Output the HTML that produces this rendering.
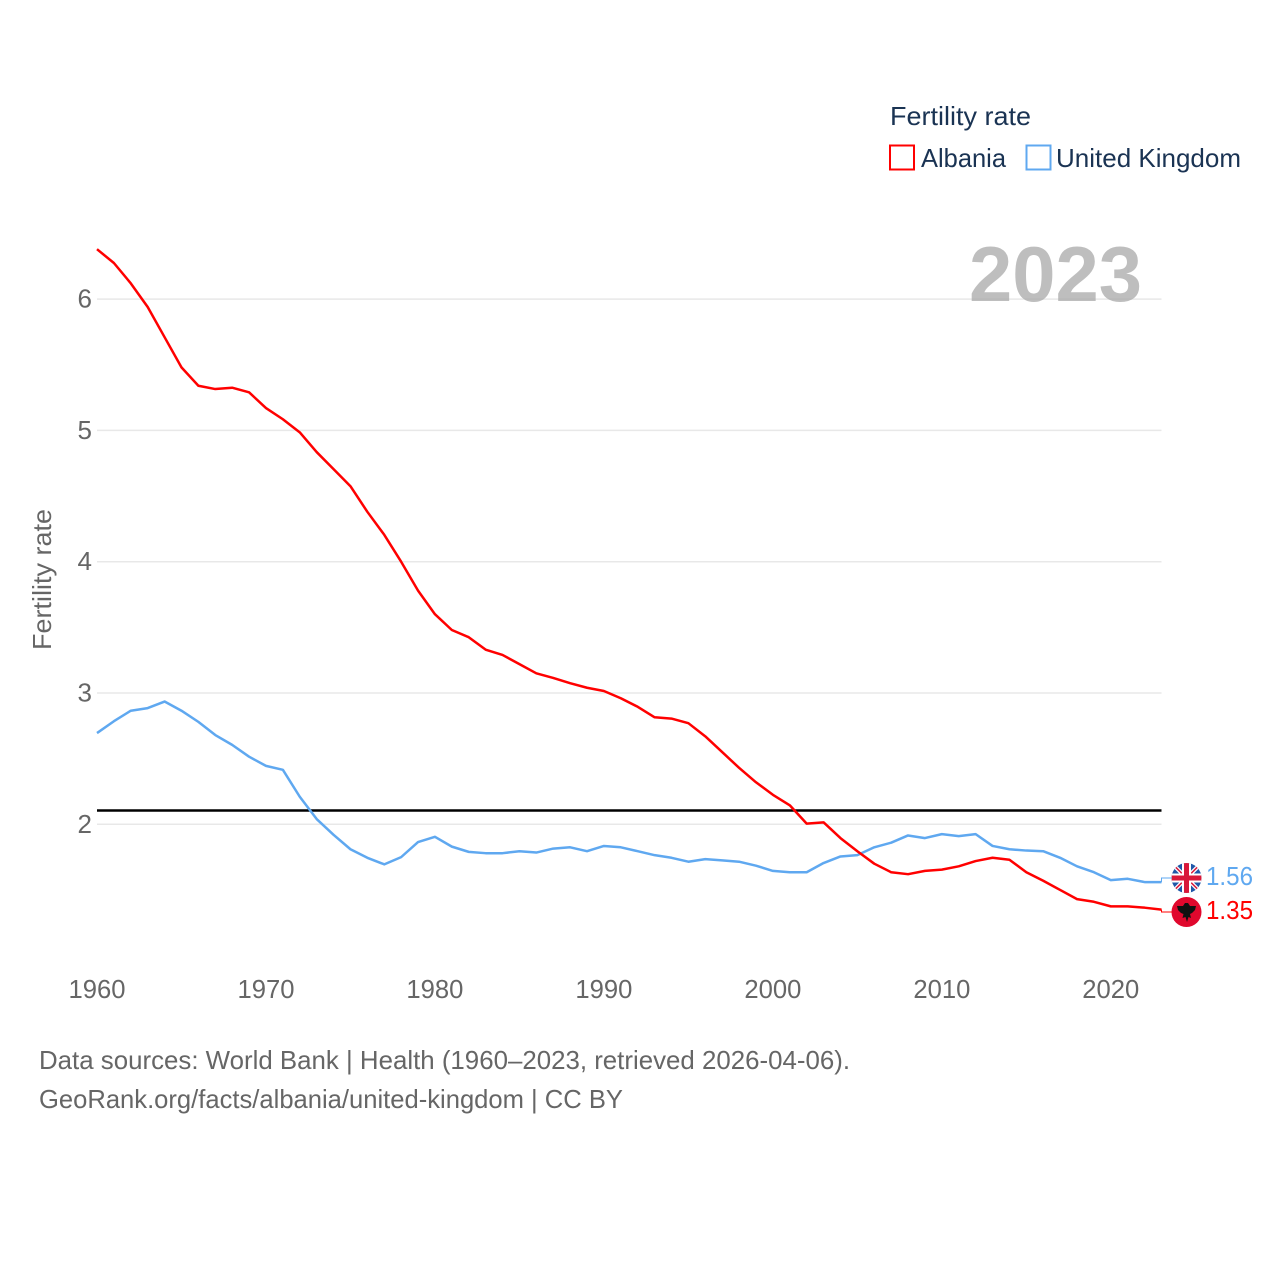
<!DOCTYPE html>
<html lang="en">
<head>
<meta charset="utf-8">
<title>Fertility rate: Albania and United Kingdom</title>
<style>
html,body{margin:0;padding:0;background:#fff;width:1280px;height:1280px;overflow:hidden}
svg{display:block}
text{font-family:"Liberation Sans",sans-serif}
</style>
</head>
<body>
<svg id="chart" xmlns="http://www.w3.org/2000/svg" width="1280" height="1280" viewBox="0 0 1280 1280">
  <defs>
    <clipPath id="uk-clip"><circle cx="1186.5" cy="878" r="15"/></clipPath>
  </defs>
  <rect x="0" y="0" width="1280" height="1280" fill="#fff"/>
  <g id="grid"></g>
  <text x="1142" y="301" text-anchor="end" font-size="78" font-weight="700" fill="#a8a8a8" fill-opacity="0.75" textLength="173" lengthAdjust="spacingAndGlyphs">2023</text>
  <g id="y-ticks"></g>
  <g id="x-ticks"></g>
  <text transform="translate(51,579.5) rotate(-90)" text-anchor="middle" font-size="26" fill="#666" textLength="141" lengthAdjust="spacingAndGlyphs">Fertility rate</text>
  <g id="series"></g>

  <g>
    <text x="890" y="125" font-size="26" fill="#1a3353" textLength="141" lengthAdjust="spacingAndGlyphs">Fertility rate</text>
    <g>
      <rect x="890" y="145.5" width="24" height="24" fill="#fff" stroke="#ff0000" stroke-width="2"/>
      <text x="921" y="167" font-size="26" fill="#1a3353" textLength="85" lengthAdjust="spacingAndGlyphs">Albania</text>
    </g>
    <g>
      <rect x="1026.5" y="145.5" width="24" height="24" fill="#fff" stroke="#5fa8f0" stroke-width="2"/>
      <text x="1056" y="167" font-size="26" fill="#1a3353" textLength="185" lengthAdjust="spacingAndGlyphs">United Kingdom</text>
    </g>
  </g>

  <g clip-path="url(#uk-clip)">
    <rect x="1171" y="862" width="31" height="32" fill="#1f57a8"/>
    <path d="M1172.5 864 L1200.5 892 M1200.5 864 L1172.5 892" stroke="#fff" stroke-width="4"/>
    <path d="M1172.5 864 L1200.5 892 M1200.5 864 L1172.5 892" stroke="#d8183a" stroke-width="1.5"/>
    <rect x="1171" y="873.5" width="31" height="9" fill="#fff"/>
    <rect x="1182" y="862" width="9" height="32" fill="#fff"/>
    <rect x="1171" y="875.5" width="31" height="5" fill="#d8183a"/>
    <rect x="1184" y="862" width="5" height="32" fill="#d8183a"/>
  </g>
  <g>
    <circle cx="1186.5" cy="912" r="15" fill="#e0082d"/>
    <path d="M1177 906 L1183 906 L1185 903 L1188 903 L1190 906 L1196 906 L1195 910 L1192 913 L1190 914 L1191 918 L1188.5 917 L1187 922 L1185.5 917 L1182.5 918 L1183.5 914 L1181 913 L1178 910 Z" fill="#111"/>
  </g>
  <g id="end-labels"></g>

  <g>
    <text x="39" y="1069" font-size="26" fill="#666" textLength="811" lengthAdjust="spacingAndGlyphs">Data sources: World Bank | Health (1960–2023, retrieved 2026-04-06).</text>
    <text x="39" y="1108" font-size="26" fill="#666" textLength="584" lengthAdjust="spacingAndGlyphs">GeoRank.org/facts/albania/united-kingdom | CC BY</text>
  </g>
</svg>
<script>
const years = [1960,1961,1962,1963,1964,1965,1966,1967,1968,1969,1970,1971,1972,1973,1974,1975,1976,1977,1978,1979,1980,1981,1982,1983,1984,1985,1986,1987,1988,1989,1990,1991,1992,1993,1994,1995,1996,1997,1998,1999,2000,2001,2002,2003,2004,2005,2006,2007,2008,2009,2010,2011,2012,2013,2014,2015,2016,2017,2018,2019,2020,2021,2022,2023];
const albaniaValues = [6.38,6.275,6.12,5.94,5.71,5.48,5.34,5.315,5.325,5.29,5.17,5.085,4.985,4.835,4.705,4.575,4.38,4.205,4.0,3.78,3.6,3.48,3.425,3.33,3.29,3.22,3.15,3.115,3.075,3.04,3.015,2.96,2.895,2.815,2.805,2.77,2.67,2.55,2.43,2.32,2.225,2.145,2.005,2.015,1.895,1.795,1.7,1.635,1.62,1.645,1.655,1.68,1.72,1.745,1.73,1.635,1.57,1.5,1.43,1.41,1.375,1.375,1.365,1.35];
const ukValues = [2.695,2.785,2.865,2.885,2.935,2.865,2.78,2.68,2.605,2.515,2.445,2.415,2.21,2.04,1.92,1.81,1.745,1.695,1.75,1.865,1.905,1.83,1.79,1.78,1.78,1.795,1.785,1.815,1.825,1.795,1.835,1.825,1.795,1.765,1.745,1.715,1.735,1.725,1.715,1.685,1.645,1.635,1.635,1.705,1.755,1.765,1.825,1.86,1.915,1.895,1.925,1.91,1.925,1.835,1.81,1.8,1.795,1.745,1.68,1.635,1.575,1.585,1.56,1.56];
const yTickValues = [2,3,4,5,6];
const xTickValues = [1960,1970,1980,1990,2000,2010,2020];
const replacementRate = [2.105];

const NS = 'http://www.w3.org/2000/svg';
const xScale = function (year) { return 97 + (year - 1960) * (1161.5 - 97) / 63; };
const yScale = function (value) { return 824.3 - (value - 2) * 131.3; };

function make(tag, attrs, parent, content) {
  const el = document.createElementNS(NS, tag);
  Object.keys(attrs).forEach(function (k) { el.setAttribute(k, attrs[k]); });
  if (content !== undefined) el.textContent = content;
  parent.appendChild(el);
  return el;
}

const gridGroup = document.getElementById('grid');
const yTickGroup = document.getElementById('y-ticks');
const xTickGroup = document.getElementById('x-ticks');
const seriesGroup = document.getElementById('series');
const endGroup = document.getElementById('end-labels');

yTickValues.forEach(function (t) {
  const line = make('line', {x1: 97, x2: 1161.5, y1: yScale(t), y2: yScale(t), stroke: '#e8e8e8', 'stroke-width': 1.5}, gridGroup);
  
  
  const label = make('text', {x: 92, y: yScale(t) + 8.5, 'text-anchor': 'end', 'font-size': 26, fill: '#666'}, yTickGroup, String(t));
  
  
});

xTickValues.forEach(function (t) {
  const label = make('text', {x: xScale(t), y: 998, 'text-anchor': 'middle', 'font-size': 26, fill: '#666', textLength: 57, lengthAdjust: 'spacingAndGlyphs'}, xTickGroup, String(t));
  
  
});

function linePath(values) {
  return values.map(function (v, i) {
    return (i ? 'L' : 'M') + xScale(years[i]).toFixed(2) + ' ' + yScale(v).toFixed(2);
  }).join(' ');
}

const refLine = make('line', {x1: 97, x2: 1161.5, y1: yScale(replacementRate[0]), y2: yScale(replacementRate[0]), stroke: '#000', 'stroke-width': 2.5}, seriesGroup);



const ukLine = make('path', {d: linePath(ukValues), fill: 'none', stroke: '#5fa8f0', 'stroke-width': 2.5, 'stroke-linejoin': 'round'}, seriesGroup);



const albaniaLine = make('path', {d: linePath(albaniaValues), fill: 'none', stroke: '#ff0000', 'stroke-width': 2.5, 'stroke-linejoin': 'round'}, seriesGroup);



const lastX = xScale(years[years.length - 1]);

const ukConnector = make('path', {d: 'M' + lastX + ' ' + yScale(ukValues[ukValues.length - 1]) + ' V878 H1172', fill: 'none', stroke: '#5fa8f0', 'stroke-width': 1}, endGroup);



const albaniaConnector = make('path', {d: 'M' + lastX + ' ' + yScale(albaniaValues[albaniaValues.length - 1]) + ' V912 H1172', fill: 'none', stroke: '#ff0000', 'stroke-width': 1}, endGroup);



const ukLabel = make('text', {x: 1206, y: 885, 'font-size': 26, fill: '#5fa8f0', textLength: 47, lengthAdjust: 'spacingAndGlyphs'}, endGroup, ukValues[ukValues.length - 1].toFixed(2));



const albaniaLabel = make('text', {x: 1206, y: 919, 'font-size': 26, fill: '#ff0000', textLength: 47, lengthAdjust: 'spacingAndGlyphs'}, endGroup, albaniaValues[albaniaValues.length - 1].toFixed(2));


</script>
</body>
</html>
